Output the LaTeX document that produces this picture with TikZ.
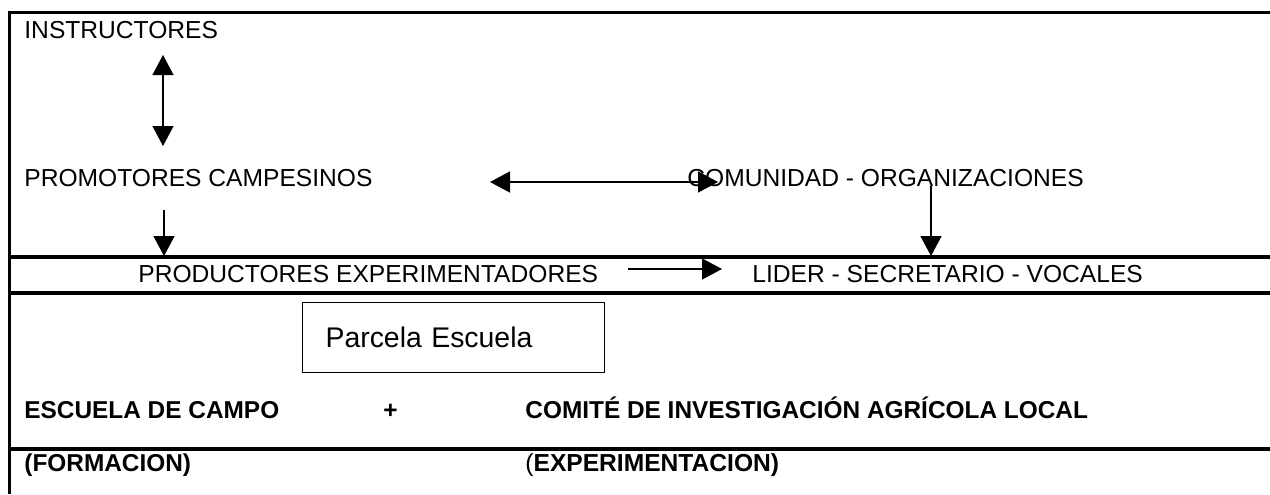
\documentclass[tikz,border=0pt]{standalone}
\usepackage{fontspec}
\setmainfont{Liberation Sans}
\usetikzlibrary{arrows.meta}

\begin{document}
\begin{tikzpicture}[x=0.5pt,y=-0.5pt,
  txt/.style={anchor=base west,inner sep=0pt,font=\fontsize{12.3}{14}\selectfont},
  bold/.style={txt,font=\fontsize{12.2}{14}\selectfont\bfseries},
  rule/.style={line width=2pt},
  arr/.style={line width=0.7pt,-{Triangle[length=10pt,width=10.5pt]}},
  dbl/.style={line width=0.7pt,{Triangle[length=10pt,width=10.5pt]}-{Triangle[length=10pt,width=10.5pt]}},
  parcela/.style={draw,line width=0.6pt,anchor=north west,minimum height=35pt,
    text width=128pt,inner xsep=11.5pt,font=\fontsize{14.2}{16}\selectfont}]
\useasboundingbox (0,0) rectangle (1270,494);

% marco
\draw[line width=1.5pt] (8,12) -- (1270,12);
\draw[line width=1.5pt] (9.5,12) -- (9.5,494);
\draw[rule] (9,257) -- (1270,257);
\draw[rule] (9,293) -- (1270,293);
\draw[rule] (9,449) -- (1270,449);

\node[txt](instr) at (24,38) {INSTRUCTORES};
\node[txt](prom) at (24,186) {PROMOTORES CAMPESINOS};
\node[txt](com) at (687,186) {COMUNIDAD - ORGANIZACIONES};
\node[txt](prod) at (138,282) {PRODUCTORES EXPERIMENTADORES};
\node[txt](lider) at (752,282) {LIDER - SECRETARIO - VOCALES};
\node[parcela](parc) at (302,302) {Parcela Escuela};
\node[bold](esc) at (24,418) {ESCUELA DE CAMPO};
\node[bold](plus) at (383,418) {+};
\node[bold](comite) at (525,418) {COMITÉ DE INVESTIGACIÓN AGRÍCOLA LOCAL};
\node[bold](form) at (24,471) {(FORMACION)};
\node[txt](exper) at (525,471) {(\textbf{EXPERIMENTACION)}};

\coordinate (i1) at (163,55);
\coordinate (i2) at (163,146);
\coordinate (h1) at (490,182);
\coordinate (h2) at (718,182);
\coordinate (p1) at (164,210);
\coordinate (p2) at (164,256);
\coordinate (c1) at (931,186);
\coordinate (c2) at (931,256);
\coordinate (r1) at (628,269);
\coordinate (r2) at (722,269);

\draw (i1) edge[dbl] (i2)
      (h1) edge[dbl] (h2)
      (p1) edge[arr] (p2)
      (c1) edge[arr] (c2)
      (r1) edge[arr] (r2);

\end{tikzpicture}
\end{document}
